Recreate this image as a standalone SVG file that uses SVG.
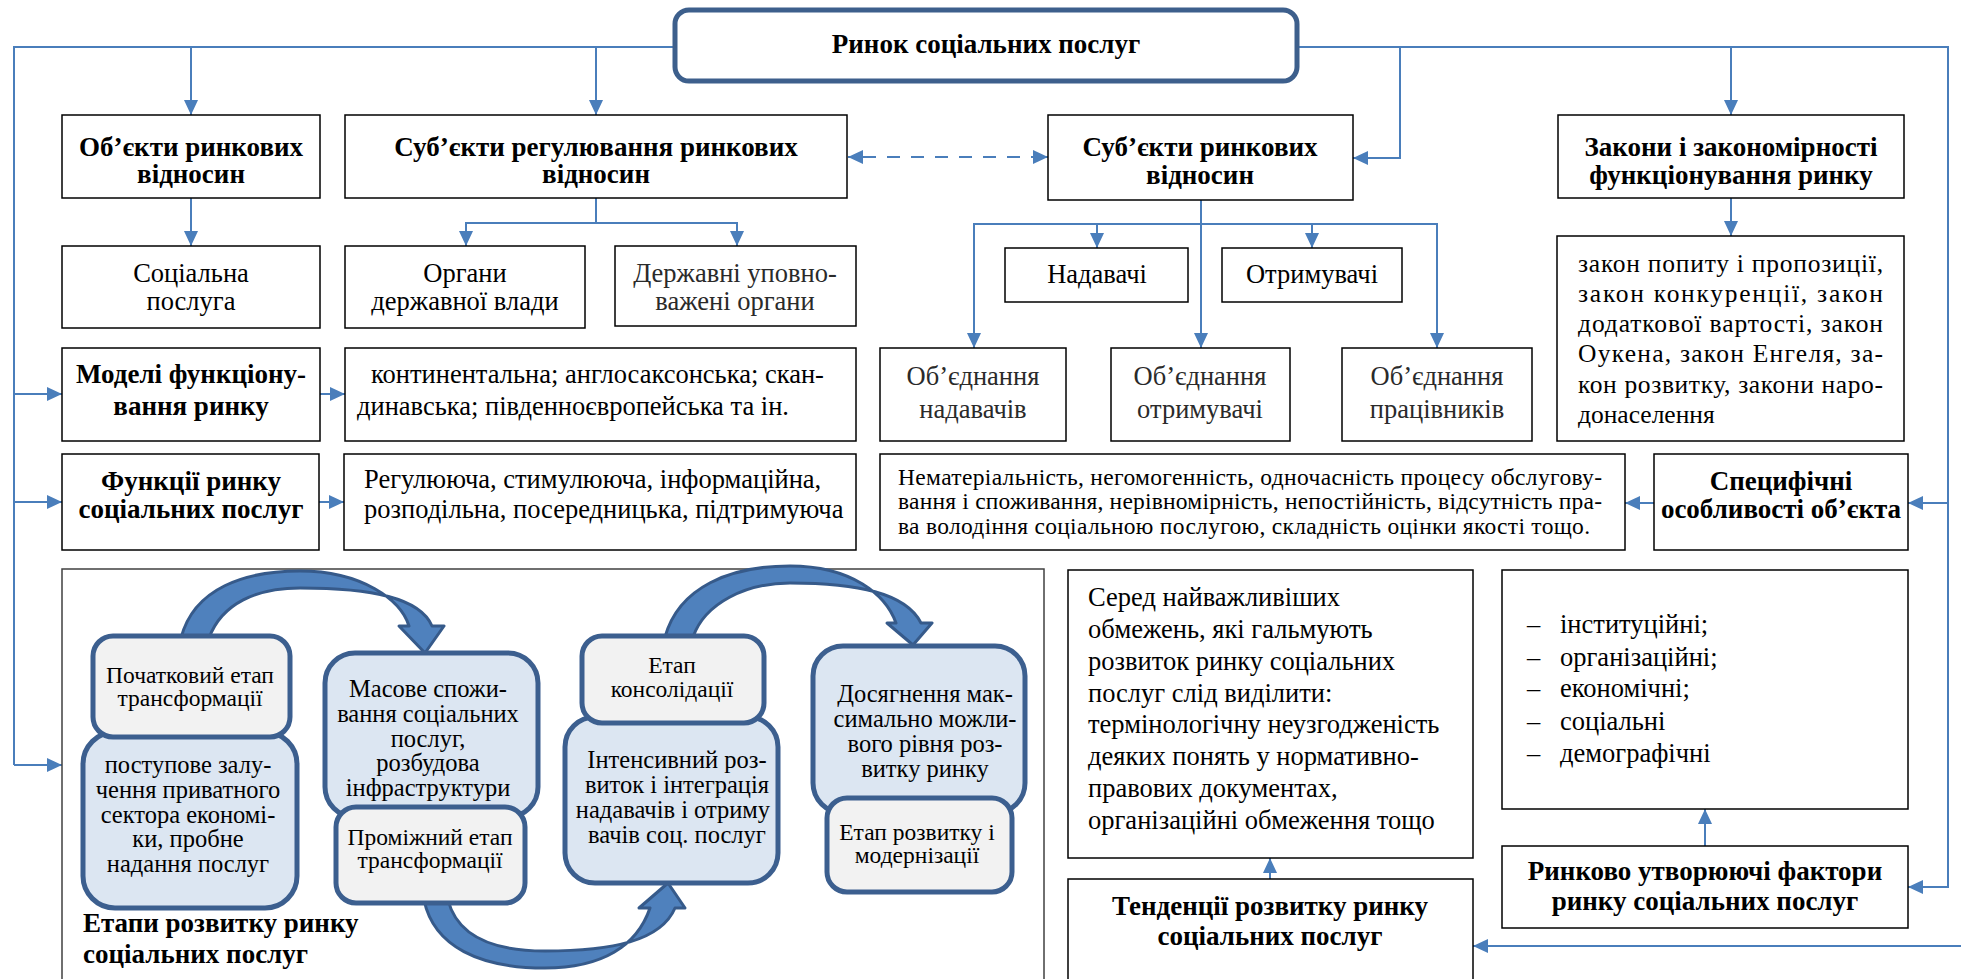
<svg xmlns="http://www.w3.org/2000/svg" width="1961" height="979" viewBox="0 0 1961 979" font-family="'Liberation Serif', 'Times New Roman', serif">
<defs>
<marker id="ah" markerUnits="userSpaceOnUse" markerWidth="16" markerHeight="14" refX="15" refY="7" orient="auto">
<path d="M0,0 L15,7 L0,14 z" fill="#4A7EBB"/>
</marker>
<marker id="ahs" markerUnits="userSpaceOnUse" markerWidth="16" markerHeight="14" refX="0" refY="7" orient="auto">
<path d="M15,0 L0,7 L15,14 z" fill="#4A7EBB"/>
</marker>
</defs>
<style>
.bx{fill:#fff;stroke:#000;stroke-width:1.5}
.sm{stroke:#3C5F8F;stroke-width:5}
.lb{fill:#DCE6F2}
.gr{fill:#F2F2F2}
.c{fill:none;stroke:#4A7EBB;stroke-width:2}
.arc{fill:#4F81BD;stroke:#365A8A;stroke-width:3;stroke-linejoin:round}
text{font-family:'Liberation Serif','Times New Roman',serif;fill:#000}
.h{font-weight:bold;font-size:27px;text-anchor:middle}
.t{font-size:26.5px;text-anchor:middle}
.g{fill:#2a2a2a}
.s{font-size:23.5px;text-anchor:middle}
.sb{font-size:24.5px;text-anchor:middle}
.n{font-size:23.5px}
.l{font-size:25.5px}
.st{text-anchor:start}
</style>
<rect width="1961" height="979" fill="#fff"/>

<g id="connectors">
<polyline class="c" points="673,47 14,47 14,765"/>
<line class="c" x1="191" y1="47" x2="191" y2="115" marker-end="url(#ah)"/>
<line class="c" x1="596" y1="47" x2="596" y2="115" marker-end="url(#ah)"/>
<line class="c" x1="14" y1="394" x2="62" y2="394" marker-end="url(#ah)"/>
<line class="c" x1="14" y1="502" x2="62" y2="502" marker-end="url(#ah)"/>
<line class="c" x1="14" y1="765" x2="62" y2="765" marker-end="url(#ah)"/>
<polyline class="c" points="1298,47 1948,47 1948,887 1908,887" marker-end="url(#ah)"/>
<line class="c" x1="1948" y1="503" x2="1908" y2="503" marker-end="url(#ah)"/>
<polyline class="c" points="1400,47 1400,158 1353,158" marker-end="url(#ah)"/>
<line class="c" x1="1731" y1="47" x2="1731" y2="115" marker-end="url(#ah)"/>
<line class="c" x1="1961" y1="946" x2="1473" y2="946" marker-end="url(#ah)"/>
<line class="c" x1="863" y1="157" x2="1033" y2="157" stroke-dasharray="13,11"/>
<line class="c" x1="865" y1="157" x2="848" y2="157" marker-end="url(#ah)"/>
<line class="c" x1="1031" y1="157" x2="1048" y2="157" marker-end="url(#ah)"/>
<line class="c" x1="191" y1="198" x2="191" y2="246" marker-end="url(#ah)"/>
<polyline class="c" points="466,246 466,223 737,223 737,246" marker-start="url(#ahs)" marker-end="url(#ah)"/>
<line class="c" x1="596" y1="198" x2="596" y2="223"/>
<line class="c" x1="1201" y1="200" x2="1201" y2="348" marker-end="url(#ah)"/>
<polyline class="c" points="974,348 974,224 1437,224 1437,348" marker-start="url(#ahs)" marker-end="url(#ah)"/>
<line class="c" x1="1097" y1="224" x2="1097" y2="248" marker-end="url(#ah)"/>
<line class="c" x1="1312" y1="224" x2="1312" y2="248" marker-end="url(#ah)"/>
<line class="c" x1="1731" y1="198" x2="1731" y2="236" marker-end="url(#ah)"/>
<line class="c" x1="320" y1="394" x2="345" y2="394" marker-end="url(#ah)"/>
<line class="c" x1="319" y1="502" x2="344" y2="502" marker-end="url(#ah)"/>
<line class="c" x1="1654" y1="503" x2="1625" y2="503" marker-end="url(#ah)"/>
<line class="c" x1="1270" y1="879" x2="1270" y2="858" marker-end="url(#ah)"/>
<line class="c" x1="1705" y1="846" x2="1705" y2="809" marker-end="url(#ah)"/>
</g>

<g id="n-root">
<rect x="675" y="10" width="622" height="71" rx="14" fill="#fff" stroke="#3D5F8C" stroke-width="5"/>
<text class="h" x="986" y="53">Ринок соціальних послуг</text>
</g>

<g id="n-objects">
<rect class="bx" x="62" y="115" width="258" height="83"/>
<text class="h" x="191" y="156">Об’єкти ринкових</text>
<text class="h" x="191" y="183">відносин</text>
</g>
<g id="n-regsubj">
<rect class="bx" x="345" y="115" width="502" height="83"/>
<text class="h" x="596" y="156">Суб’єкти регулювання ринкових</text>
<text class="h" x="596" y="183">відносин</text>
</g>
<g id="n-subj">
<rect class="bx" x="1048" y="115" width="305" height="85"/>
<text class="h" x="1200" y="156">Суб’єкти ринкових</text>
<text class="h" x="1200" y="184">відносин</text>
</g>
<g id="n-laws">
<rect class="bx" x="1558" y="115" width="346" height="83"/>
<text class="h" x="1731" y="156">Закони і закономірності</text>
<text class="h" x="1731" y="184">функціонування ринку</text>
</g>

<g id="n-service">
<rect class="bx" x="62" y="246" width="258" height="82"/>
<text class="t" x="191" y="282">Соціальна</text>
<text class="t" x="191" y="310">послуга</text>
</g>
<g id="n-organs">
<rect class="bx" x="345" y="246" width="240" height="82"/>
<text class="t" x="465" y="282">Органи</text>
<text class="t" x="465" y="310">державної влади</text>
</g>
<g id="n-authorized">
<rect class="bx" x="615" y="246" width="241" height="80"/>
<text class="t g" x="735" y="282">Державні уповно-</text>
<text class="t g" x="735" y="310">важені органи</text>
</g>
<g id="n-providers">
<rect class="bx" x="1005" y="248" width="183" height="54"/>
<text class="t" x="1097" y="283">Надавачі</text>
</g>
<g id="n-recipients">
<rect class="bx" x="1222" y="248" width="180" height="54"/>
<text class="t" x="1312" y="283">Отримувачі</text>
</g>

<g id="n-models">
<rect class="bx" x="62" y="348" width="258" height="93"/>
<text class="h" x="191" y="383">Моделі функціону-</text>
<text class="h" x="191" y="415">вання ринку</text>
</g>
<g id="n-models-list">
<rect class="bx" x="345" y="348" width="511" height="93"/>
<text class="t st" x="371" y="383">континентальна; англосаксонська; скан-</text>
<text class="t st" x="357" y="415">динавська; південноєвропейська та ін.</text>
</g>
<g id="n-assoc-prov">
<rect class="bx" x="880" y="348" width="186" height="93"/>
<text class="t g" x="973" y="385">Об’єднання</text>
<text class="t g" x="973" y="418">надавачів</text>
</g>
<g id="n-assoc-rec">
<rect class="bx" x="1111" y="348" width="179" height="93"/>
<text class="t g" x="1200" y="385">Об’єднання</text>
<text class="t g" x="1200" y="418">отримувачі</text>
</g>
<g id="n-assoc-work">
<rect class="bx" x="1342" y="348" width="190" height="93"/>
<text class="t g" x="1437" y="385">Об’єднання</text>
<text class="t g" x="1437" y="418">працівників</text>
</g>
<g id="n-laws-list">
<rect class="bx" x="1557" y="236" width="347" height="205"/>
<text class="l" x="1578" y="272" textLength="305" lengthAdjust="spacing">закон попиту і пропозиції,</text>
<text class="l" x="1578" y="302" textLength="305" lengthAdjust="spacing">закон конкуренції, закон</text>
<text class="l" x="1578" y="332" textLength="305" lengthAdjust="spacing">додаткової вартості, закон</text>
<text class="l" x="1578" y="362" textLength="305" lengthAdjust="spacing">Оукена, закон Енгеля, за-</text>
<text class="l" x="1578" y="393" textLength="305" lengthAdjust="spacing">кон розвитку, закони наро-</text>
<text class="l" x="1578" y="423">донаселення</text>
</g>

<g id="n-functions">
<rect class="bx" x="62" y="454" width="257" height="96"/>
<text class="h" x="191" y="490">Функції ринку</text>
<text class="h" x="191" y="518">соціальних послуг</text>
</g>
<g id="n-functions-list">
<rect class="bx" x="344" y="454" width="512" height="96"/>
<text class="t st" x="364" y="488">Регулююча, стимулююча, інформаційна,</text>
<text class="t st" x="364" y="518">розподільна, посередницька, підтримуюча</text>
</g>
<g id="n-features">
<rect class="bx" x="880" y="454" width="745" height="96"/>
<text class="n" x="898" y="485" textLength="704" lengthAdjust="spacing">Нематеріальність, негомогенність, одночасність процесу обслугову-</text>
<text class="n" x="898" y="509" textLength="704" lengthAdjust="spacing">вання і споживання, нерівномірність, непостійність, відсутність пра-</text>
<text class="n" x="898" y="534" textLength="692" lengthAdjust="spacing">ва володіння соціальною послугою, складність оцінки якості тощо.</text>
</g>
<g id="n-specific">
<rect class="bx" x="1654" y="454" width="254" height="96"/>
<text class="h" x="1781" y="490">Специфічні</text>
<text class="h" x="1781" y="518">особливості об’єкта</text>
</g>

<g id="n-stages">
<rect x="62" y="569" width="982" height="420" fill="#fff" stroke="#404040" stroke-width="1.5"/>
<path class="arc" d="M181,638 C194,588 245,571 300,571 C362,571 401,600 409,626 L399,626 L425,653 L444,626 L432,626 C420,598 372,588 300,588 C257,588 222,603 209,638 Z"/>
<path class="arc" d="M665,637 C679,587 730,566 790,566 C852,566 886,595 896,623 L887,623 L913,645 L932,623 L921,623 C906,593 857,583 790,583 C746,583 705,603 693,637 Z"/>
<path class="arc" d="M424,900 C434,947 480,968 545,968 C602,968 637,946 650,908 L639,908 L668,883 L685,908 L675,908 C661,941 612,951 545,951 C491,951 457,935 448,900 Z"/>
<rect class="sm lb" x="83" y="732" width="214" height="176" rx="32"/>
<rect class="sm lb" x="325" y="653" width="213" height="164" rx="30"/>
<rect class="sm lb" x="565" y="717" width="213" height="166" rx="30"/>
<rect class="sm lb" x="813" y="646" width="212" height="167" rx="30"/>
<rect class="sm gr" x="93" y="636" width="197" height="101" rx="20"/>
<rect class="sm gr" x="336" y="807" width="189" height="96" rx="20"/>
<rect class="sm gr" x="582" y="636" width="182" height="87" rx="20"/>
<rect class="sm gr" x="827" y="798" width="185" height="94" rx="20"/>
<text class="s" x="190" y="683">Початковий етап</text>
<text class="s" x="190" y="706">трансформації</text>
<text class="sb" x="188" y="773">поступове залу-</text>
<text class="sb" x="188" y="798">чення приватного</text>
<text class="sb" x="188" y="823">сектора економі-</text>
<text class="sb" x="188" y="847">ки, пробне</text>
<text class="sb" x="188" y="872">надання послуг</text>
<text class="sb" x="428" y="697">Масове спожи-</text>
<text class="sb" x="428" y="722">вання соціальних</text>
<text class="sb" x="428" y="747">послуг,</text>
<text class="sb" x="428" y="771">розбудова</text>
<text class="sb" x="428" y="796">інфраструктури</text>
<text class="s" x="430" y="845">Проміжний етап</text>
<text class="s" x="430" y="868">трансформації</text>
<text class="s" x="672" y="673">Етап</text>
<text class="s" x="672" y="697">консолідації</text>
<text class="sb" x="677" y="768">Інтенсивний роз-</text>
<text class="sb" x="677" y="793">виток і інтеграція</text>
<text class="sb" x="673" y="818">надавачів і отриму</text>
<text class="sb" x="677" y="843">вачів соц. послуг</text>
<text class="sb" x="925" y="702">Досягнення мак-</text>
<text class="sb" x="925" y="727">симально можли-</text>
<text class="sb" x="925" y="752">вого рівня роз-</text>
<text class="sb" x="925" y="777">витку ринку</text>
<text class="s" x="917" y="840">Етап розвитку і</text>
<text class="s" x="917" y="863">модернізації</text>
<text class="h st" x="83" y="932">Етапи розвитку ринку</text>
<text class="h st" x="83" y="963">соціальних послуг</text>
</g>

<g id="n-limits">
<rect class="bx" x="1068" y="570" width="405" height="288"/>
<text class="t st" x="1088" y="606">Серед найважливіших</text>
<text class="t st" x="1088" y="638">обмежень, які гальмують</text>
<text class="t st" x="1088" y="670">розвиток ринку соціальних</text>
<text class="t st" x="1088" y="702">послуг слід виділити:</text>
<text class="t st" x="1088" y="733">термінологічну неузгодженість</text>
<text class="t st" x="1088" y="765">деяких понять у нормативно-</text>
<text class="t st" x="1088" y="797">правових документах,</text>
<text class="t st" x="1088" y="829">організаційні обмеження тощо</text>
</g>
<g id="n-trends">
<rect class="bx" x="1068" y="879" width="405" height="110"/>
<text class="h" x="1270" y="915">Тенденції розвитку ринку</text>
<text class="h" x="1270" y="945">соціальних послуг</text>
</g>
<g id="n-factors-list">
<rect class="bx" x="1502" y="570" width="406" height="239"/>
<text class="t st" x="1527" y="633">–</text>
<text class="t st" x="1560" y="633">інституційні;</text>
<text class="t st" x="1527" y="666">–</text>
<text class="t st" x="1560" y="666">організаційні;</text>
<text class="t st" x="1527" y="697">–</text>
<text class="t st" x="1560" y="697">економічні;</text>
<text class="t st" x="1527" y="730">–</text>
<text class="t st" x="1560" y="730">соціальні</text>
<text class="t st" x="1527" y="762">–</text>
<text class="t st" x="1560" y="762">демографічні</text>
</g>
<g id="n-factors">
<rect class="bx" x="1502" y="846" width="406" height="82"/>
<text class="h" x="1705" y="880">Ринково утворюючі фактори</text>
<text class="h" x="1705" y="910">ринку соціальних послуг</text>
</g>
</svg>
